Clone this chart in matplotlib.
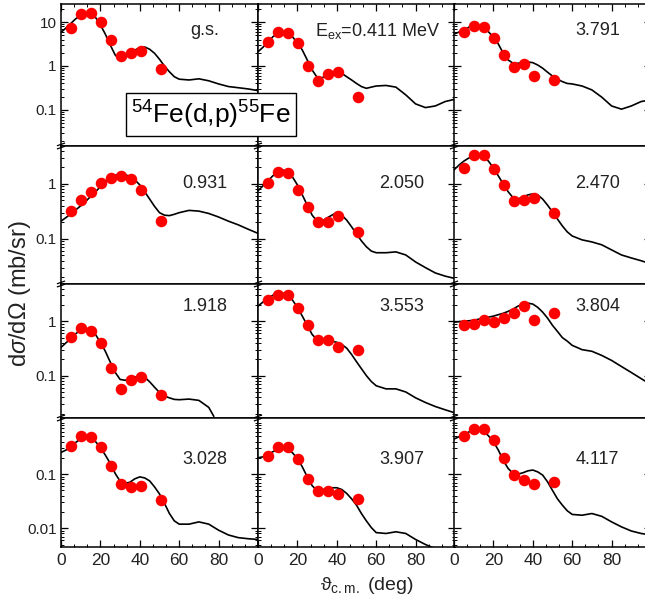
import matplotlib
matplotlib.use("Agg")
import matplotlib.pyplot as plt
from matplotlib.lines import Line2D
from matplotlib.ticker import LogLocator, FuncFormatter, AutoMinorLocator, NullFormatter

plt.rcParams['font.family'] = ['Liberation Sans', 'DejaVu Sans']
plt.rcParams['mathtext.fontset'] = 'custom'
plt.rcParams['mathtext.rm'] = 'Liberation Sans'
plt.rcParams['mathtext.it'] = 'Liberation Sans:italic'
plt.rcParams['mathtext.bf'] = 'Liberation Sans:bold'

# measured angles (deg, c.m.)
ANGLES = [5.1, 10.2, 15.3, 20.4, 25.5, 30.6, 35.7, 40.8, 51.0]
# angles of the DWBA curve
CURVE_ANGLES = [0, 2.5, 5, 7.5, 10, 12.5, 15, 17.5, 20, 22.5, 25, 27.5, 30,
                32.5, 35, 37.5, 40, 42.5, 45, 47.5, 50, 52.5, 55, 57.5, 60,
                65, 70, 75, 80, 85, 90, 95, 100]

LABELS = ['g.s.', r'E$_{\mathregular{ex}}$=0.411 MeV', '3.791',
          '0.931', '2.050', '2.470',
          '1.918', '3.553', '3.804',
          '3.028', '3.907', '4.117']

exp_gs = [7.2, 15.0, 15.8, 9.8, 3.9, 1.7, 1.95, 2.2, 0.84]
calc_gs = [5.8, 7.3, 9.3, 11.9, 13.7, 15.2, 14.4, 12.8, 8.6, 5.3, 3.0, 1.78, 1.39,
           1.55, 1.94, 2.3, 2.6, 2.7, 2.4, 1.94, 1.42, 1.0, 0.74, 0.57, 0.5,
           0.48, 0.51, 0.46, 0.39, 0.34, 0.32, 0.30, 0.275]

exp_0411 = [3.45, 6.0, 5.5, 3.3, 1.0, 0.46, 0.66, 0.72, 0.2]
calc_0411 = [2.1, 2.66, 3.45, 4.6, 5.5, 5.8, 5.5, 4.6, 3.4, 2.3, 1.37, 0.81, 0.55,
             0.54, 0.61, 0.70, 0.74, 0.68, 0.57, 0.48, 0.40, 0.34, 0.31, 0.33, 0.35,
             0.36, 0.33, 0.22, 0.137, 0.113, 0.123, 0.155, 0.175]

exp_3791 = [6.0, 8.2, 7.6, 4.4, 1.78, 0.97, 1.1, 0.6, 0.48]
calc_3791 = [5.3, 5.9, 6.6, 7.6, 8.2, 8.4, 7.6, 6.0, 4.5, 3.16, 1.94, 1.37, 1.15,
             1.15, 1.21, 1.23, 1.19, 1.05, 0.89, 0.72, 0.59, 0.50, 0.44, 0.40, 0.39,
             0.35, 0.285, 0.195, 0.123, 0.104, 0.123, 0.155, 0.17]

exp_0931 = [0.32, 0.51, 0.72, 1.03, 1.3, 1.4, 1.22, 0.76, 0.21]
calc_0931 = [0.21, 0.244, 0.285, 0.337, 0.40, 0.48, 0.59, 0.72, 0.89, 1.10, 1.30, 1.44, 1.50,
             1.48, 1.36, 1.18, 0.96, 0.72, 0.53, 0.39, 0.30, 0.27, 0.265, 0.28, 0.30,
             0.33, 0.32, 0.29, 0.25, 0.21, 0.18, 0.15, 0.126]

exp_2050 = [1.04, 1.65, 1.58, 0.78, 0.38, 0.2, 0.2, 0.26, 0.134]
calc_2050 = [0.75, 0.92, 1.13, 1.4, 1.65, 1.8, 1.65, 1.34, 0.96, 0.63, 0.41, 0.27, 0.21,
             0.21, 0.24, 0.27, 0.30, 0.27, 0.22, 0.166, 0.123, 0.092, 0.072, 0.06, 0.056,
             0.056, 0.058, 0.051, 0.038, 0.03, 0.024, 0.021, 0.019]

exp_2470 = [1.95, 3.4, 3.4, 1.9, 0.96, 0.49, 0.51, 0.56, 0.3]
calc_2470 = [1.8, 2.2, 2.6, 2.96, 3.2, 3.37, 3.1, 2.6, 1.95, 1.4, 1.0, 0.72, 0.56,
             0.53, 0.58, 0.63, 0.66, 0.63, 0.53, 0.41, 0.31, 0.23, 0.172, 0.134, 0.113,
             0.096, 0.088, 0.078, 0.063, 0.051, 0.045, 0.04, 0.035]

exp_1918 = [0.51, 0.75, 0.66, 0.39, 0.136, 0.057, 0.083, 0.096, 0.044]
calc_1918 = [0.33, 0.40, 0.48, 0.59, 0.69, 0.73, 0.68, 0.57, 0.41, 0.28, 0.177, 0.115, 0.085,
             0.082, 0.087, 0.094, 0.099, 0.093, 0.077, 0.061, 0.049, 0.042, 0.039, 0.0365, 0.036,
             0.037, 0.035, 0.026, 0.018]
angles_1918 = CURVE_ANGLES[:28] + [77.5]

exp_3553 = [2.45, 3.0, 3.0, 1.75, 0.84, 0.45, 0.45, 0.33, 0.29]
calc_3553 = [1.9, 2.25, 2.67, 3.0, 3.3, 3.3, 3.0, 2.45, 1.8, 1.24, 0.84, 0.57, 0.46,
             0.43, 0.43, 0.43, 0.41, 0.375, 0.32, 0.245, 0.18, 0.134, 0.1, 0.078, 0.065,
             0.057, 0.057, 0.05, 0.039, 0.032, 0.027, 0.0235, 0.0206]

exp_3804 = [0.84, 0.88, 1.04, 0.96, 1.14, 1.4, 1.9, 1.04, 1.4]
calc_3804 = [0.96, 0.98, 1.0, 1.02, 1.04, 1.09, 1.14, 1.19, 1.24, 1.32, 1.4, 1.52, 1.67,
             1.9, 2.07, 2.15, 2.07, 1.8, 1.47, 1.14, 0.84, 0.65, 0.5, 0.43, 0.36,
             0.30, 0.28, 0.235, 0.19, 0.147, 0.114, 0.088, 0.068]

exp_3028 = [0.33, 0.51, 0.49, 0.32, 0.14, 0.067, 0.058, 0.061, 0.033]
calc_3028 = [0.252, 0.278, 0.32, 0.386, 0.45, 0.484, 0.457, 0.40, 0.312, 0.225, 0.158, 0.103, 0.074,
             0.067, 0.071, 0.082, 0.089, 0.085, 0.075, 0.058, 0.043, 0.029, 0.0188, 0.0137, 0.0119,
             0.0119, 0.0131, 0.0119, 0.0092, 0.0075, 0.0067, 0.0064, 0.0062]

exp_3907 = [0.215, 0.32, 0.32, 0.19, 0.083, 0.048, 0.048, 0.043, 0.034]
calc_3907 = [0.20, 0.209, 0.225, 0.259, 0.286, 0.30, 0.286, 0.248, 0.195, 0.136, 0.089, 0.061, 0.050,
             0.051, 0.054, 0.056, 0.056, 0.052, 0.044, 0.035, 0.0267, 0.0187, 0.0137, 0.0103, 0.0083,
             0.008, 0.0086, 0.008, 0.0062, 0.005, 0.0042, 0.0035, 0.003]

exp_4117 = [0.51, 0.67, 0.67, 0.43, 0.2, 0.096, 0.077, 0.067, 0.072]
calc_4117 = [0.445, 0.49, 0.54, 0.60, 0.65, 0.67, 0.625, 0.51, 0.40, 0.278, 0.18, 0.127, 0.103,
             0.10, 0.106, 0.115, 0.119, 0.11, 0.096, 0.072, 0.05, 0.035, 0.0267, 0.021, 0.018,
             0.0174, 0.0187, 0.0166, 0.0131, 0.0106, 0.0089, 0.008, 0.0075]

EXP = [exp_gs, exp_0411, exp_3791, exp_0931, exp_2050, exp_2470,
       exp_1918, exp_3553, exp_3804, exp_3028, exp_3907, exp_4117]
CALC = [calc_gs, calc_0411, calc_3791, calc_0931, calc_2050, calc_2470,
        calc_1918, calc_3553, calc_3804, calc_3028, calc_3907, calc_4117]
CALC_X = [CURVE_ANGLES] * 6 + [angles_1918] + [CURVE_ANGLES] * 5

YLIMS = [(0.0151, 25.7), (0.0151, 4.9), (0.0166, 4.84), (0.0045, 1.09)]
# labelled decades in each row
YTICKS = [[0.1, 1, 10], [0.1, 1], [0.1, 1], [0.01, 0.1]]

W, H = 645, 605
fig = plt.figure(figsize=(W / 100, H / 100), dpi=100)

# panel geometry in pixels (top-left origin)
col_left = [61, 258, 454]
col_w = 197
row_top = [4, 146, 284, 418]
row_bot = [146, 284, 418, 547]
label_y = [0.81, 0.73, 0.83, 0.675]


def ytick_fmt(v, _):
    return f"{v:g}"


for i in range(12):
    r, c = divmod(i, 3)
    ax = fig.add_axes([col_left[c] / W, 1 - row_bot[r] / H,
                       col_w / W, (row_bot[r] - row_top[r]) / H])
    ax.set_yscale('log')
    ax.plot(CALC_X[i], CALC[i], color='black', lw=1.2, zorder=2)
    ax.plot(ANGLES, EXP[i], 'o', color='#ff0000', ms=8.3, mec='none', zorder=3)
    ax.set_xlim(0, 100)

    for s in ax.spines.values():
        s.set_linewidth(1.1)
    ax.set_yticks(YTICKS[r])
    ax.yaxis.set_minor_locator(LogLocator(base=10, subs=range(2, 10)))
    ax.yaxis.set_minor_formatter(NullFormatter())
    if c == 0:
        ax.yaxis.set_major_formatter(FuncFormatter(ytick_fmt))
    else:
        ax.yaxis.set_major_formatter(NullFormatter())
    ax.set_ylim(*YLIMS[r])

    ax.set_xticks([0, 20, 40, 60, 80, 100])
    ax.xaxis.set_minor_locator(AutoMinorLocator(3))
    if r == 3:
        ax.set_xticklabels(['0', '20', '40', '60', '80', ''])
    else:
        ax.set_xticklabels([])
    ax.tick_params(which='both', direction='in', left=True, right=True,
                   top=(r == 0), bottom=(r == 3), colors='black',
                   labelcolor='#222222')
    ax.tick_params(which='major', length=5, width=0.9)
    ax.tick_params(which='minor', length=2.5, width=0.7)
    ax.tick_params(axis='y', labelsize=11, pad=3)
    ax.tick_params(axis='x', labelsize=12.5, pad=4)

    lx = 0.61 if i == 1 else 0.73
    ax.text(lx, label_y[r], LABELS[i], transform=ax.transAxes,
            ha='center', va='center', fontsize=13, color='#222222')


# axis break marks on the vertical spines
def draw_break(xp, yp):
    for dy in (-1.6, 1.6):
        fig.add_artist(Line2D([(xp - 3.5) / W, (xp + 3.5) / W],
                              [1 - (yp + dy + 1.2) / H, 1 - (yp + dy - 1.2) / H],
                              color='black', lw=0.9))


for yb in (146, 284, 418):
    for xb in (61, 258, 454):
        draw_break(xb, yb)

fig.text(211 / W, 1 - 114.5 / H,
         r'$\mathregular{^{54}}$Fe(d,p)$\mathregular{^{55}}$Fe',
         ha='center', va='center', fontsize=19, zorder=10,
         bbox=dict(boxstyle='square,pad=0.2', fc='white', ec='black', lw=1.0))

fig.text(20 / W, 1 - 294 / H, r'd$\sigma$/d$\Omega$ (mb/sr)', rotation=90,
         ha='center', va='center', fontsize=17, color='#222222')
fig.text(367 / W, 1 - 585 / H, r'ϑ$_{\mathregular{c.m.}}$ (deg)',
         ha='center', va='center', fontsize=14, color='#222222')

fig.savefig('out.png', dpi=100)
